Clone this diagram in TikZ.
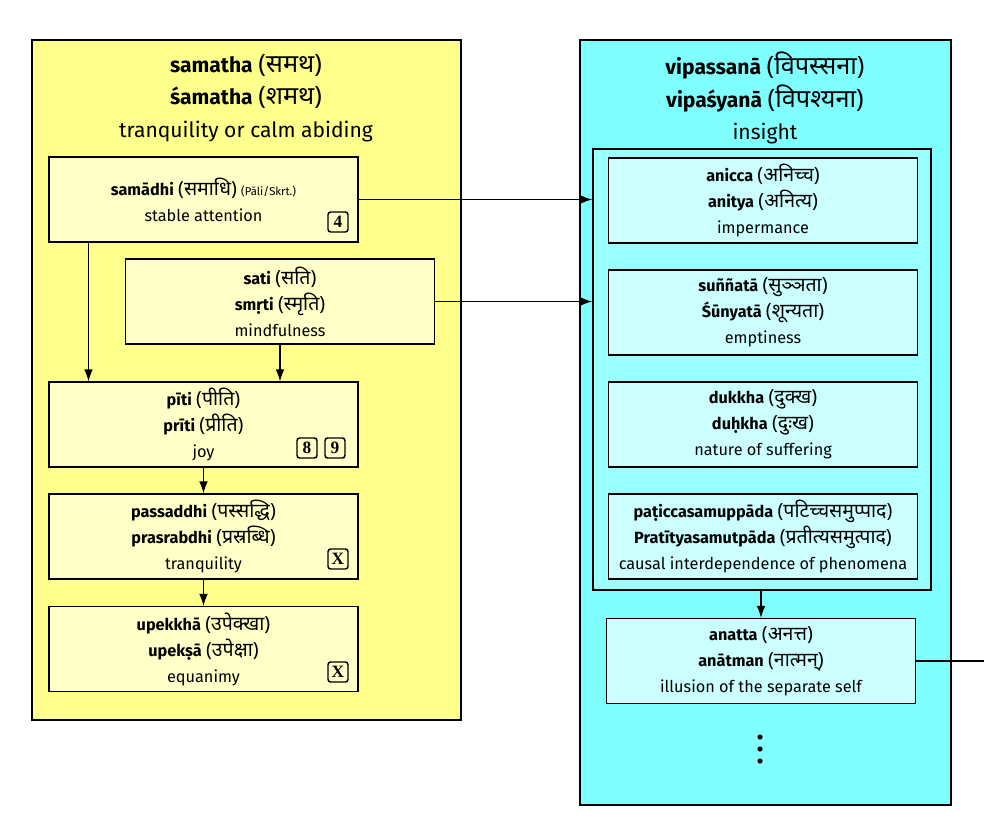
\documentclass[tikz,border=0pt]{standalone}
\usepackage{fontspec}
\setmainfont{Fira Sans}
\newfontfamily\devfont[Script=Devanagari, Scale=1.2]{Noto Sans}
\newfontfamily\keyfont{Liberation Serif}
\usetikzlibrary{arrows.meta}

\definecolor{calmbg}{HTML}{FFFF8C}
\definecolor{calmbox}{HTML}{FFFFC8}
\definecolor{insightbg}{HTML}{80FFFF}
\definecolor{insightgrp}{HTML}{99FFFF}
\definecolor{insightbox}{HTML}{CCFFFF}

\newcommand{\dv}[1]{{\devfont(#1)}}

\begin{document}
\begin{tikzpicture}[x=0.75pt, y=-0.75pt,
  panel/.style={draw, line width=1pt, inner sep=0pt},
  term/.style={draw, line width=0.9pt, minimum width=231.75pt, minimum height=63.75pt,
    align=center, inner sep=0pt, font=\fontsize{12.2}{19.5}\selectfont},
  calm/.style={term, fill=calmbox},
  insight/.style={term, fill=insightbox},
  badge/.style={draw, line width=1.1pt, rounded corners=2pt, minimum size=15pt,
    inner sep=0pt, font=\keyfont\bfseries\fontsize{13}{13}\selectfont},
  link/.style={-{Latex[length=9pt,width=6.5pt]}, line width=0.9pt},
  heading/.style={align=center, font=\fontsize{15.8}{24.5}\selectfont}]
\useasboundingbox (0,0) rectangle (984,824);

% the two panels
\node[panel, fill=calmbg, minimum width=321.75pt, minimum height=510pt] (samatha) at (246.5,380) {};
\node[panel, fill=insightbg, minimum width=278.25pt, minimum height=573.75pt] (vipassana) at (765.5,422.5) {};
\node[panel, fill=insightgrp, minimum width=253.5pt, minimum height=330.75pt] (marks) at (762,369.5) {};

\node[heading] (samathatitle) at (246,98)
  {\textbf{samatha} \dv{समथ}\\\textbf{śamatha} \dv{शमथ}\\tranquility or calm abiding};
\node[heading] (vipassanatitle) at (765,98)
  {\textbf{vipassanā} \dv{विपस्सना}\\\textbf{vipaśyanā} \dv{विपश्यना}\\insight};

% samatha side
\node[calm] (samadhi) at (203.5,199.5)
  {\textbf{samādhi} \dv{समाधि} {\fontsize{8.5}{8.5}\selectfont(Pāli/Skrt.)}\\stable attention};
\node[calm] (sati) at (280,301.5)
  {\textbf{sati} \dv{सति}\\\textbf{smṛti} \dv{स्मृति}\\mindfulness};
\node[calm] (piti) at (203.5,424.5)
  {\textbf{pīti} \dv{पीति}\\\textbf{prīti} \dv{प्रीति}\\joy};
\node[calm] (passaddhi) at (203.5,536.5)
  {\textbf{passaddhi} \dv{पस्सद्धि}\\\textbf{prasrabdhi} \dv{प्रस्रब्धि}\\tranquility};
\node[calm] (upekkha) at (203.5,649)
  {\textbf{upekkhā} \dv{उपेक्खा}\\\textbf{upekṣā} \dv{उपेक्षा}\\equanimy};

\node[badge] (key4) at (338,222) {4};
\node[badge] (key8) at (307,448) {8};
\node[badge] (key9) at (335,448) {9};
\node[badge] (keyx1) at (338,559) {X};
\node[badge] (keyx2) at (338,672) {X};

% vipassana side
\node[insight] (anicca) at (763,200.5)
  {\textbf{anicca} \dv{अनिच्च}\\\textbf{anitya} \dv{अनित्य}\\impermance};
\node[insight] (sunnata) at (763,312.5)
  {\textbf{suññatā} \dv{सुञ्ञता}\\\textbf{Śūnyatā} \dv{शून्यता}\\emptiness};
\node[insight] (dukkha) at (763,424.5)
  {\textbf{dukkha} \dv{दुक्ख}\\\textbf{duḥkha} \dv{दुःख}\\nature of suffering};
\node[insight] (paticca) at (763,536.5)
  {\textbf{paṭiccasamuppāda} \dv{पटिच्चसमुप्पाद}\\\textbf{Pratītyasamutpāda} \dv{प्रतीत्यसमुत्पाद}\\causal interdependence of phenomena};
\node[insight] (anatta) at (761,661)
  {\textbf{anatta} \dv{अनत्त}\\\textbf{anātman} \dv{नात्मन्}\\illusion of the separate self};
\foreach \y in {737,749,761} \fill (760,\y) circle (2.6);
\coordinate (offpage) at (984,661);

% connectors
\draw[link] ([xshift=-86.25pt]samadhi.south) -- ([xshift=-86.25pt]piti.north);
\draw[link] (sati.south) -- (sati.south |- piti.north);
\draw[link] (piti) -- (passaddhi);
\draw[link] (passaddhi) -- (upekkha);
\draw[link] (samadhi.east) -- (samadhi.east -| marks.west);
\draw[link] (sati.east) -- (sati.east -| marks.west);
\draw[link] (marks.south -| anatta.north) -- (anatta.north);
\draw[line width=0.9pt] (anatta.east) -- (offpage);
\end{tikzpicture}
\end{document}
